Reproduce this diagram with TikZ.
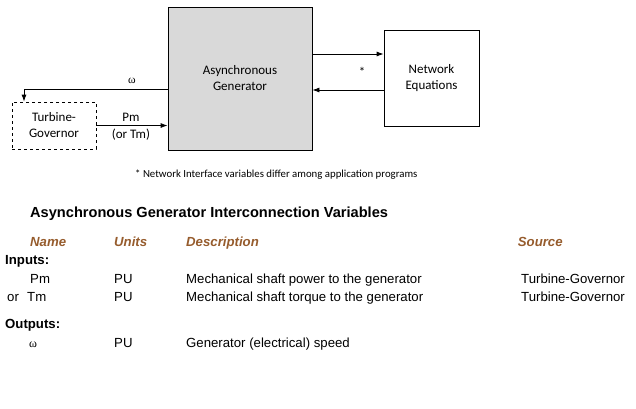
\documentclass[tikz,border=0pt]{standalone}
\usepackage{fontspec}
\setmainfont{Liberation Sans}
\newfontfamily\carfont{Carlito}
\newfontfamily\serfont{Liberation Serif}
\usetikzlibrary{arrows.meta,calc}
\definecolor{hdr}{RGB}{150,92,45}
\definecolor{genfill}{RGB}{217,217,217}
\tikzset{
  blk/.style={draw=black,line width=0.8pt,inner sep=0pt,align=center,font=\carfont\fontsize{13}{16}\selectfont},
  arr/.style={line width=0.8pt,-{Latex[length=7pt,width=5pt]}},
  lbl/.style={inner sep=0pt,font=\carfont\fontsize{13}{16}\selectfont,align=center},
  tbl/.style={anchor=base west,inner sep=0pt,font=\fontsize{13.2}{15}\selectfont},
  hd/.style={anchor=base west,inner sep=0pt,font=\bfseries\itshape\fontsize{13.2}{15}\selectfont,text=hdr},
  sec/.style={anchor=base west,inner sep=0pt,font=\bfseries\fontsize{13.2}{15}\selectfont},
}
\begin{document}
\begin{tikzpicture}[x=1pt,y=-1pt]
\useasboundingbox (0,0) rectangle (636,408);
% blocks
\node[blk,fill=genfill,minimum width=144pt,minimum height=143pt] (gen) at (240,78.5) {Asynchronous\\Generator};
\node[blk,minimum width=95pt,minimum height=96pt] (ne) at (431.5,78) {Network\\Equations};
\node[blk,dashed,minimum width=84pt,minimum height=47pt] (tg) at (54,125.5) {Turbine-\\Governor};
% connectors
\draw[arr] ([yshift=24.5pt]gen.east) -- ([yshift=24.5pt]gen.east -| ne.west);
\draw[arr] ([yshift=-12pt]ne.west) -- ([yshift=-12pt]ne.west -| gen.east);
\draw[arr] ([yshift=-10.5pt]gen.west) -| ([xshift=-30pt]tg.north);
\draw[arr] (tg.east) -- (tg.east -| gen.west);
% labels
\node[inner sep=0pt,font=\serfont\fontsize{11.5}{12}\selectfont] (lw) at (132,81) {ω};
\node[lbl] (ls) at (362,72) {*};
\node[lbl] (lpm) at (131,117) {Pm};
\node[lbl] (ltm) at (131,134.5) {(or Tm)};
\node[anchor=base west,inner sep=0pt,font=\carfont\fontsize{10.8}{12}\selectfont] (fn) at (135,177) {* Network Interface variables differ among application programs};
% table
\node[anchor=base west,inner sep=0pt,font=\bfseries\fontsize{14.6}{16}\selectfont] (title) at (30,217) {Asynchronous Generator Interconnection Variables};
\node[hd] (hname) at (30,246.7) {Name};
\node[hd] (hunits) at (114,246.7) {Units};
\node[hd] (hdesc) at (186,246.7) {Description};
\node[hd] (hsrc) at (517.7,246.7) {Source};
\node[sec] (inp) at (5,264) {Inputs:};
\node[tbl] (r1a) at (30,283) {Pm};
\node[tbl] (r1b) at (114,283) {PU};
\node[tbl] (r1c) at (186,283) {Mechanical shaft power to the generator};
\node[tbl] (r1d) at (521,283) {Turbine-Governor};
\node[tbl] (r2o) at (7,301) {or};
\node[tbl] (r2a) at (27,301) {Tm};
\node[tbl] (r2b) at (114,301) {PU};
\node[tbl] (r2c) at (186,301) {Mechanical shaft torque to the generator};
\node[tbl] (r2d) at (521,301) {Turbine-Governor};
\node[sec] (outp) at (5,328) {Outputs:};
\node[anchor=base west,inner sep=0pt,font=\serfont\fontsize{12}{13}\selectfont] (r3a) at (29,347) {ω};
\node[tbl] (r3b) at (114,347) {PU};
\node[tbl] (r3c) at (186,347) {Generator (electrical) speed};
\end{tikzpicture}
\end{document}
